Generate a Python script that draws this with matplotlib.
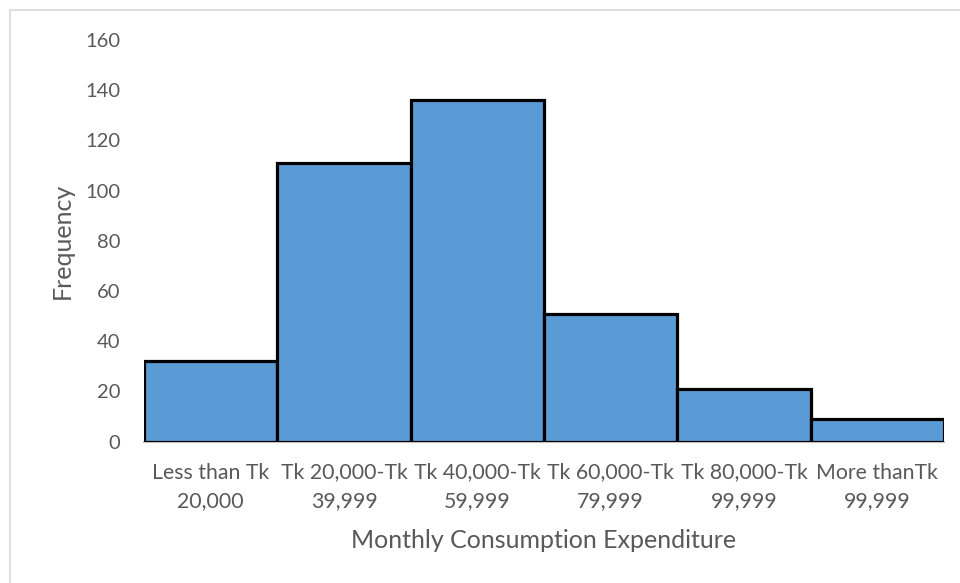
import numpy as np
import matplotlib.pyplot as plt
from matplotlib.patches import Rectangle

categories = ["Less than Tk\n20,000", "Tk 20,000-Tk\n39,999", "Tk 40,000-Tk\n59,999",
              "Tk 60,000-Tk\n79,999", "Tk 80,000-Tk\n99,999", "More thanTk\n99,999"]
frequency = [32, 111, 136, 51, 21, 9]
y_ticks = [0, 20, 40, 60, 80, 100, 120, 140, 160]

plt.rcParams['font.family'] = ['Lato', 'DejaVu Sans']
text_col = '#595959'

fig = plt.figure(figsize=(9.6, 5.83), dpi=100)
ax = fig.add_axes([0.15, 0.2424, 0.8333, 0.689])

x = np.arange(len(categories))
ax.bar(x, frequency, width=1.0, color='#5B9BD5', edgecolor='black', linewidth=2.3, zorder=3)

ax.set_xlim(-0.5, len(categories) - 0.5)
ax.set_ylim(0, 160)
ax.set_yticks(y_ticks)
ax.set_xticks(x)
ax.set_xticklabels(categories, linespacing=1.55)

for s in ['top', 'right', 'left']:
    ax.spines[s].set_visible(False)
ax.spines['bottom'].set_color('#BFBFBF')
ax.spines['bottom'].set_linewidth(1.5)
ax.tick_params(axis='both', length=0, colors=text_col)
ax.tick_params(axis='y', pad=17, labelsize=14.5)
ax.tick_params(axis='x', pad=15, labelsize=15.3)

ax.set_ylabel("Frequency", fontsize=18, color=text_col, labelpad=8)
ax.set_xlabel("Monthly Consumption Expenditure", fontsize=18, color=text_col, labelpad=13)

# light grey chart border (left and top visible)
fig.patches.append(Rectangle((10 / 960, -0.1), 1.2, 1 - 10 / 583 + 0.1, transform=fig.transFigure,
                             fill=False, edgecolor='#D9D9D9', linewidth=1.2))

fig.savefig("out.png", dpi=100)
